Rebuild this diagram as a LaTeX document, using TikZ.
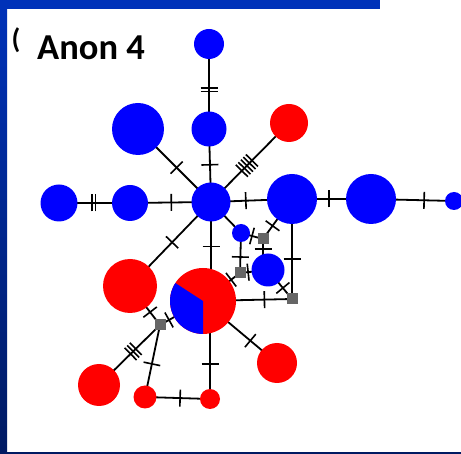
\documentclass[tikz,border=0pt]{standalone}
\usepackage{fontspec}
\setmainfont{Carlito}
\usetikzlibrary{backgrounds,decorations.markings,calc}
\definecolor{hblue}{RGB}{0,0,255}
\definecolor{hred}{RGB}{255,0,0}
\definecolor{hgray}{RGB}{102,102,102}
\definecolor{topblue}{RGB}{0,50,185}
\definecolor{navy}{RGB}{0,26,98}
\pgfdeclarelayer{bgzero}
\pgfsetlayers{bgzero,background,main}
\tikzset{
  edge/.style={draw=black, line width=1.8pt},
  bnode/.style={circle, fill=hblue, inner sep=0pt, minimum size=#1},
  rnode/.style={circle, fill=hred, inner sep=0pt, minimum size=#1},
  sqnode/.style={rectangle, fill=hgray, minimum size=11pt, inner sep=0pt},
  tk/.style 2 args={postaction={decorate, decoration={markings,
      mark=at position #1 with {\foreach \k in {1,...,#2} {\draw[line width=1.6pt] ({(\k-(#2+1)/2)*3.6pt},-8.5pt) -- ++(0pt,17pt);}}}}},
}
\begin{document}
\begin{tikzpicture}[x=1pt,y=-1pt]
\useasboundingbox (0,0) rectangle (461,454);
\begin{pgfonlayer}{bgzero}
  \fill[white] (0,0) rectangle (461,454);
  \shade[top color=topblue, bottom color=navy] (0,0) rectangle (7,454);
  \fill[topblue] (0,0) rectangle (380,9);
  \fill[navy] (0,452) rectangle (461,454);
\end{pgfonlayer}

\node[font=\fontsize{28}{30}\selectfont\bfseries] (paren) at (16,40) {(};
\node[anchor=base west, inner sep=0pt, font=\fontsize{36.5}{40}\selectfont\bfseries] (title) at (37,60) {Anon 4};

% blue nodes
\node[bnode=30pt] (T1) at (209,44) {};
\node[bnode=35pt] (T2) at (209,129) {};
\node[bnode=52pt] (UL) at (138,129) {};
\node[rnode=38pt] (RU) at (289,123) {};
\node[bnode=37pt] (L1) at (59,203) {};
\node[bnode=36pt] (L2) at (130,203) {};
\node[bnode=39pt] (H) at (211,202) {};
\node[bnode=50pt] (RB) at (292,199) {};
\node[bnode=50pt] (FR) at (371,199) {};
\node[bnode=18pt] (FS) at (454,201) {};
\node[bnode=18pt] (SB) at (241,233) {};
\node[bnode=33pt] (MB) at (268,270) {};
% gray squares
\node[sqnode] (G1) at (263,239) {};
\node[sqnode] (G2) at (240,273) {};
\node[sqnode] (G3) at (292,299) {};
\node[sqnode] (G4) at (160,325) {};
% red nodes
\node[rnode=54pt] (RL) at (130,286) {};
\node[rnode=66pt] (P) at (203,301) {};
\fill[hblue] (P.center) -- ++(147:33pt) arc[start angle=147, end angle=270, radius=33pt] -- cycle;
\node[rnode=40pt] (R2) at (277,363) {};
\node[rnode=42pt] (R3) at (99,385) {};
\node[rnode=23pt] (R4) at (145,397) {};
\node[rnode=20pt] (R5) at (210,399) {};

\begin{pgfonlayer}{background}
  \draw[edge, tk={0.54}{2}] (T1.center) -- (T2.center);
  \draw[edge, tk={0.49}{1}] (T2.center) -- (H.center);
  \draw[edge, tk={0.53}{1}] (UL.center) -- (H.center);
  \draw[edge, tk={0.54}{5}] (RU.center) -- (H.center);
  \draw[edge, tk={0.49}{2}] (L1.center) -- (L2.center);
  \draw[edge, tk={0.51}{1}] (L2.center) -- (H.center);
  \draw[edge, tk={0.43}{1}] (H.center) -- (RB.center);
  \draw[edge, tk={0.47}{1}] (RB.center) -- (FR.center);
  \draw[edge, tk={0.64}{1}] (FR.center) -- (FS.center);
  \draw[edge, tk={0.48}{1}] (H.center) -- (RL.center);
  \draw[edge, tk={0.45}{1}] (H.center) -- (H.center |- P.center);
  \draw[edge] (H.center) -- (SB.center);
  \draw[edge, tk={0.5}{1}] (SB.center) -- (G1.center);
  \draw[edge, tk={0.6}{1}] (SB.center) -- (G2.center);
  \draw[edge, tk={0.33}{1}] (G1.center) -- (RB.center);
  \draw[edge, tk={0.32}{1}] (G1.center) -- (G1.center |- MB.center);
  \draw[edge, tk={0.29}{1}] (G2.center) -- (MB.center);
  \draw[edge, tk={0.24}{1}] (G2.center) -- (P.center);
  \draw[edge, tk={0.6}{1}] (RB.center) -- (G3.center);
  \draw[edge, tk={0.62}{1}] (MB.center) -- (G3.center);
  \draw[edge, tk={0.69}{1}] (P.center) -- (G3.center);
  \draw[edge, tk={0.64}{1}] (P.center) -- (R2.center);
  \draw[edge, tk={0.67}{1}] (RL.center) -- (G4.center);
  \draw[edge, tk={0.79}{1}] (P.center) -- (G4.center);
  \draw[edge, tk={0.44}{3}] (G4.center) -- (R3.center);
  \draw[edge, tk={0.54}{1}] (G4.center) -- (R4.center);
  \draw[edge, tk={0.54}{1}] (R4.center) -- (R5.center);
  \draw[edge, tk={0.64}{1}] (P.center -| R5.center) -- (R5.center);
\end{pgfonlayer}
\end{tikzpicture}
\end{document}
